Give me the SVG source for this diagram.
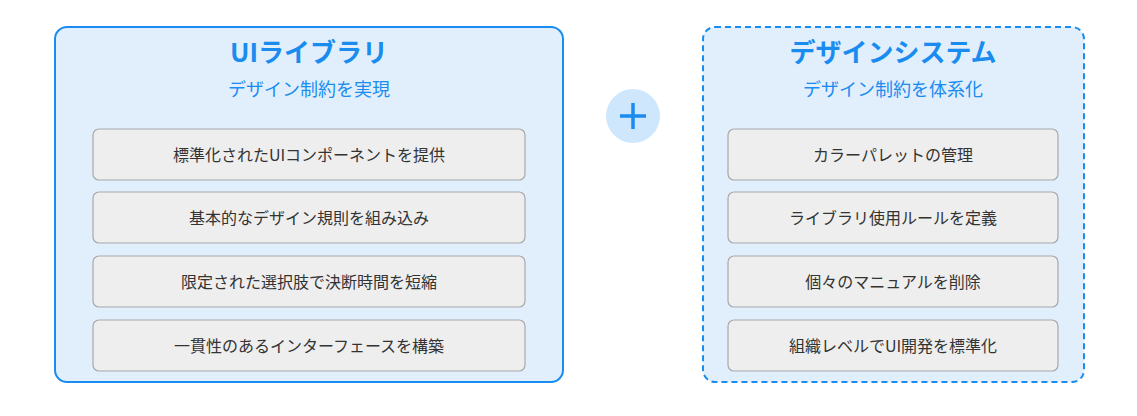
<svg xmlns="http://www.w3.org/2000/svg" width="1137" height="416" viewBox="0 0 1137 416">
<style>
.t{font-family:"Noto Sans CJK JP","Noto Sans",sans-serif;fill:#1a8cf0;text-anchor:middle}
.ti{font-size:26px;font-weight:bold}
.su{font-size:18px}
.it rect{fill:#eeeeee;stroke:#a8a8a8;stroke-width:1.2}
.it text{font-family:"Noto Sans CJK JP","Noto Sans",sans-serif;font-size:16px;fill:#333;text-anchor:middle}
</style>
<rect width="1137" height="416" fill="#fff"/>
<g id="ui-library">
<rect x="55" y="27" width="508" height="355" rx="12" fill="#e1effd" stroke="#1a8cf0" stroke-width="2"/>
<text class="t ti" x="309" y="62">UIライブラリ</text>
<text class="t su" x="309" y="96">デザイン制約を実現</text>
<g class="it"><rect x="93" y="129" width="432" height="51" rx="6"/><text x="309" y="161">標準化されたUIコンポーネントを提供</text></g>
<g class="it"><rect x="93" y="192" width="432" height="51" rx="6"/><text x="309" y="224">基本的なデザイン規則を組み込み</text></g>
<g class="it"><rect x="93" y="256" width="432" height="51" rx="6"/><text x="309" y="288">限定された選択肢で決断時間を短縮</text></g>
<g class="it"><rect x="93" y="320" width="432" height="51" rx="6"/><text x="309" y="352">一貫性のあるインターフェースを構築</text></g>
</g>
<g id="plus">
<circle cx="633" cy="116" r="27" fill="#cfe7fd"/>
<path d="M620 116H646M633 103V129" stroke="#1a8cf0" stroke-width="3.5"/>
</g>
<g id="design-system">
<rect x="703" y="27" width="381" height="355" rx="12" fill="#e1effd" stroke="#1a8cf0" stroke-width="2" stroke-dasharray="6 4"/>
<text class="t ti" x="893" y="62">デザインシステム</text>
<text class="t su" x="893" y="96">デザイン制約を体系化</text>
<g class="it"><rect x="728" y="129" width="330" height="51" rx="6"/><text x="893" y="161">カラーパレットの管理</text></g>
<g class="it"><rect x="728" y="192" width="330" height="51" rx="6"/><text x="893" y="224">ライブラリ使用ルールを定義</text></g>
<g class="it"><rect x="728" y="256" width="330" height="51" rx="6"/><text x="893" y="288">個々のマニュアルを削除</text></g>
<g class="it"><rect x="728" y="320" width="330" height="51" rx="6"/><text x="893" y="352">組織レベルでUI開発を標準化</text></g>
</g>
<g id="connectors"/>
</svg>
